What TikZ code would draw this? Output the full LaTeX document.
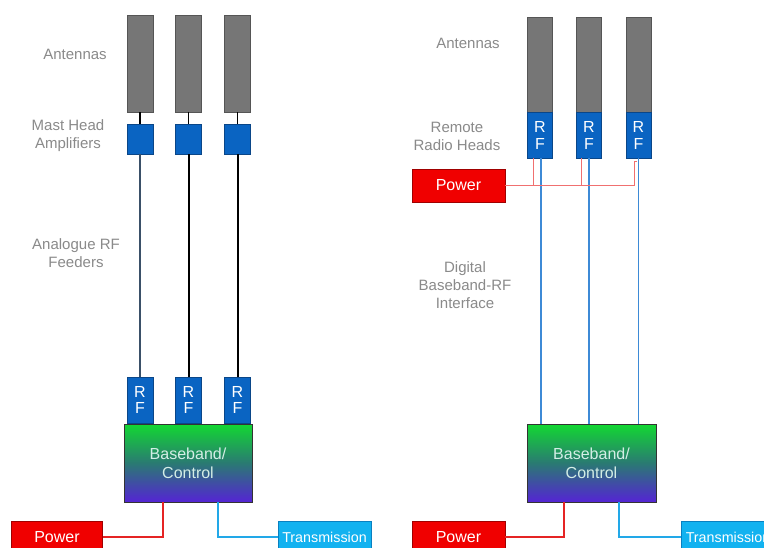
\documentclass[tikz,border=0pt]{standalone}
\usepackage{fontspec}
\setmainfont{Liberation Sans}
\definecolor{lblgray}{HTML}{8A8A8A}
\definecolor{antfill}{HTML}{767676}
\definecolor{antdraw}{HTML}{555555}
\definecolor{rfblue}{HTML}{0A64C2}
\definecolor{rfdraw}{HTML}{0A4688}
\definecolor{bbgreen}{HTML}{12D832}
\definecolor{bbmid}{HTML}{2A7A72}
\definecolor{bbpurple}{HTML}{5424D4}
\definecolor{pwrred}{HTML}{F00000}
\definecolor{pwrdraw}{HTML}{A00000}
\definecolor{pwrline}{HTML}{E52424}
\definecolor{pwrthin}{HTML}{F07070}
\definecolor{trnfill}{HTML}{12B2F0}
\definecolor{trndraw}{HTML}{0A80C0}
\definecolor{trnline}{HTML}{22A8E8}
\definecolor{digline}{HTML}{3D8AD6}
\definecolor{feedgray}{HTML}{3A5068}
\definecolor{bbtext}{HTML}{D4EEE6}
\tikzset{
  lbl/.style={text=lblgray, font=\fontsize{15}{18}\selectfont, align=center, inner sep=0pt},
  ant/.style={draw=antdraw, fill=antfill, line width=0.8pt, minimum width=26pt, minimum height=97pt, inner sep=0pt},
  mha/.style={draw=rfdraw, fill=rfblue, line width=0.8pt, minimum width=26pt, minimum height=30pt, inner sep=0pt},
  rfbox/.style={draw=rfdraw, fill=rfblue, line width=0.8pt, minimum width=26pt, minimum height=46pt, inner sep=0pt,
    text=white, font=\fontsize{16}{16.5}\selectfont, align=center},
  bbbox/.style={draw=black!80, line width=0.8pt, top color=bbgreen, bottom color=bbpurple, middle color=bbmid,
    minimum width=128pt, minimum height=78pt, inner sep=0pt, text=bbtext, font=\fontsize{16}{19}\selectfont, align=center},
  pwrbox/.style={draw=pwrdraw, fill=pwrred, line width=0.8pt, minimum width=91pt, minimum height=32pt, inner sep=0pt,
    text=white, font=\fontsize{16}{18}\selectfont},
  trnbox/.style={draw=trndraw, fill=trnfill, line width=0.8pt, minimum width=93pt, minimum height=32pt, inner sep=0pt,
    text=white, font=\fontsize{14.3}{17}\selectfont},
  shortlink/.style={draw=black, line width=1.5pt},
  feeder/.style={draw=black, line width=2pt},
  digital/.style={draw=digline, line width=1.6pt},
  pwrwire/.style={draw=pwrline, line width=2pt},
  pwrfine/.style={draw=pwrthin, line width=1pt},
  trnwire/.style={draw=trnline, line width=2pt}
}
\begin{document}
\begin{tikzpicture}[x=1pt, y=-1pt]
\path[use as bounding box, fill=white] (0,0) rectangle (764,548);
\clip (0,0) rectangle (764,548);

% ---------- left diagram ----------
\node[lbl] (lantl) at (75,54) {Antennas};
\node[lbl] (lmhal) at (68,136) {Mast Head\\Amplifiers};
\node[lbl] (lfdl) at (76,253) {Analogue RF\\Feeders};

\node[ant] (a1) at (140,63.5) {};
\node[ant] (a2) at (188.5,63.5) {};
\node[ant] (a3) at (237.5,63.5) {};

\node[mha] (m1) at (140,139) {};
\node[mha] (m2) at (188.5,139) {};
\node[mha] (m3) at (237.5,139) {};

\node[rfbox] (r1) at (140,400) {R\\F};
\node[rfbox] (r2) at (188.5,400) {R\\F};
\node[rfbox] (r3) at (237.5,400) {R\\F};

\node[bbbox] (bb1) at (188,463) {Baseband/\\Control};
\node[pwrbox] (pw1) at (57,537) {Power};
\node[trnbox] (tr1) at (324.5,537) {Transmission};

\draw[shortlink] (a1) -- (m1);
\draw[shortlink] (a2) -- (m2);
\draw[shortlink] (a3) -- (m3);
\draw[feeder, draw=feedgray] (m1) -- (r1);
\draw[feeder] (m2) -- (r2);
\draw[feeder] (m3) -- (r3);

\draw[pwrwire] (pw1.east) -| ([xshift=-25pt]bb1.south);
\draw[trnwire] ([xshift=30pt]bb1.south) |- (tr1.west);

% ---------- right diagram ----------
\node[lbl] (rantl) at (468,43) {Antennas};
\node[lbl] (rrhl) at (457,136) {Remote\\Radio Heads};
\node[lbl] (rdigl) at (465,285) {Digital\\Baseband-RF\\Interface};

\node[ant, minimum width=25pt, minimum height=95pt] (b1) at (540,64.5) {};
\node[ant, minimum width=25pt, minimum height=95pt] (b2) at (589,64.5) {};
\node[ant, minimum width=25pt, minimum height=95pt] (b3) at (638.5,64.5) {};

\node[rfbox, minimum width=25pt, font=\fontsize{16}{17}\selectfont] (h1) at (540,135) {R\\F};
\node[rfbox, minimum width=25pt, font=\fontsize{16}{17}\selectfont] (h2) at (589,135) {R\\F};
\node[rfbox, minimum width=25pt, font=\fontsize{16}{17}\selectfont] (h3) at (638.5,135) {R\\F};

\node[pwrbox, minimum width=93pt, minimum height=33pt] (pw2) at (458.5,185.5) {Power};

\node[bbbox, minimum width=129pt] (bb2) at (591.5,463) {Baseband/\\Control};
\node[pwrbox, minimum width=93pt] (pw3) at (458.5,537) {Power};
\node[trnbox, minimum width=94pt] (tr2) at (728,537) {Transmission};

\draw[digital] ([xshift=1pt]h1.south) -- ([xshift=1pt]h1.south |- bb2.north);
\draw[digital] (h2.south) -- (h2.south |- bb2.north);
\draw[digital] (h3.south) -- (h3.south |- bb2.north);

\coordinate (j3) at ([xshift=-4.5pt, yshift=-3pt]h3.south);
\draw[pwrfine] (pw2.east) -| ([xshift=-7pt]h1.south);
\draw[pwrfine] (pw2.east) -| ([xshift=-8pt]h2.south);
\draw[pwrfine] (pw2.east) -| (j3) -- ++(3pt,0);

\draw[pwrwire] (pw3.east) -| ([xshift=-27.5pt]bb2.south);
\draw[trnwire] ([xshift=27.5pt]bb2.south) |- (tr2.west);
\end{tikzpicture}
\end{document}
